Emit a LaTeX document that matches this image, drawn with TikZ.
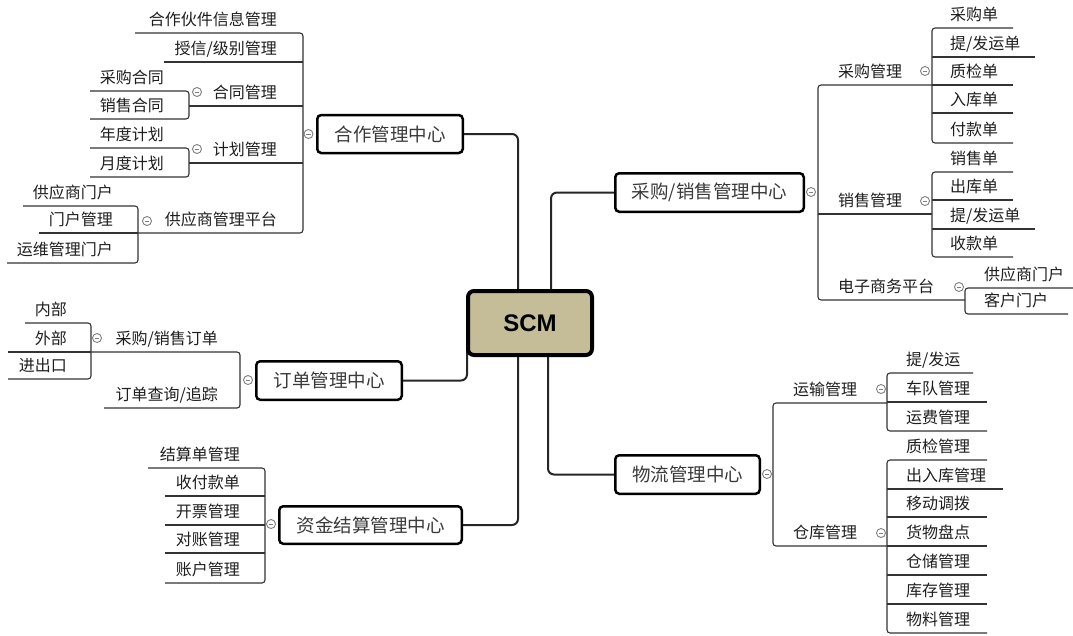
\documentclass[tikz,border=0pt]{standalone}
\usepackage{fontspec}
\newfontfamily\cjk{Noto Sans CJK SC}
\newfontfamily\scmf{Liberation Sans}
\definecolor{scmfill}{HTML}{C4BD97}
\definecolor{linec}{HTML}{333333}
\definecolor{connc}{HTML}{262626}
\definecolor{leaftext}{HTML}{1E1E1E}
\definecolor{maintext}{HTML}{3A3A3A}
\definecolor{togc}{HTML}{808080}
\tikzset{
  leaf/.style={font=\cjk\fontsize{16}{18}\selectfont, text=leaftext, inner sep=0pt},
  mainbox/.style={draw=black, line width=2.5pt, rounded corners=4pt, fill=white,
     font=\cjk\fontsize{18.5}{20}\selectfont, text=maintext, inner sep=0pt, minimum height=38pt},
  scmbox/.style={draw=black, line width=4pt, rounded corners=6pt, fill=scmfill,
     font=\scmf\bfseries\fontsize{24}{26}\selectfont, text=black, minimum width=124pt, minimum height=64pt, inner sep=0pt},
  thin/.style={draw=linec, line width=1.1pt, rounded corners=3pt},
  conn/.style={draw=connc, line width=2pt, rounded corners=6pt},
  tog/.style={circle, draw=togc, fill=white, line width=0.9pt, minimum size=9pt, inner sep=0pt,
     path picture={\draw[togc, line width=0.8pt] ([xshift=-2.3pt]path picture bounding box.center) -- ([xshift=2.3pt]path picture bounding box.center);}}
}
\newcommand\leafL[4]{\node[leaf,anchor=base east] (#1) at (#2,#3-8) {#4};}
\newcommand\leafR[4]{\node[leaf,anchor=base west] (#1) at (#2,#3-8) {#4};}
\begin{document}
\begin{tikzpicture}[x=1pt,y=-1pt]
\useasboundingbox (0,0) rectangle (1073,635);

% ---------------- main boxes ----------------
\node[mainbox, minimum width=145.5pt] (coop) at (390,134) {合作管理中心};
\node[mainbox, minimum width=188.5pt, minimum height=38.5pt] (purch) at (709.5,192.5) {采购/销售管理中心};
\node[mainbox, minimum width=145.5pt, minimum height=38.5pt] (order) at (329,380.5) {订单管理中心};
\node[mainbox, minimum width=144.5pt, minimum height=38.5pt] (logi) at (687.5,474.5) {物流管理中心};
\node[mainbox, minimum width=182.5pt, minimum height=37.5pt] (fund) at (370.5,525) {资金结算管理中心};

% ---------------- connectors from SCM ----------------
\coordinate (sc1) at (518,310);
\coordinate (sc2) at (551,310);
\coordinate (sc3) at (467,340);
\coordinate (sc4) at (548,330);
\coordinate (sc5) at (518,330);
\draw[conn] (sc1) |- (coop.east);
\draw[conn] (sc2) |- (purch.west);
\draw[conn] (sc3) |- (order.east);
\draw[conn] (sc4) |- (logi.west);
\draw[conn] (sc5) |- (fund.east);

\node[scmbox] (scm) at (530,323) {SCM};

% ---------------- 合作管理中心 ----------------
\leafL{c1}{277}{33}{合作伙件信息管理}
\leafL{c2}{277}{62}{授信/级别管理}
\leafL{c3}{277}{106}{合同管理}
\leafL{c4}{277}{163}{计划管理}
\leafL{c5}{277}{233}{供应商管理平台}
\draw[thin] (135,33) -- (303,33) -- (303,233) -- (138,233);
\draw[thin] (164,62) -- (303,62);
\draw[thin] (189,106) -- (303,106);
\draw[thin] (189,163) -- (303,163);

\leafL{c31}{164}{91}{采购合同}
\leafL{c32}{164}{119}{销售合同}
\draw[thin] (90,91) -- (189,91) -- (189,119) -- (90,119);

\leafL{c41}{164}{148}{年度计划}
\leafL{c42}{164}{177}{月度计划}
\draw[thin] (90,148) -- (189,148) -- (189,177) -- (90,177);

\leafL{c51}{113}{206}{供应商门户}
\leafL{c52}{113}{233}{门户管理}
\leafL{c53}{113}{263}{运维管理门户}
\draw[thin] (23,206) -- (138,206) -- (138,263) -- (7,263);
\draw[thin] (39,233) -- (138,233);

% ---------------- 订单管理中心 ----------------
\leafL{o1}{218}{352}{采购/销售订单}
\leafL{o2}{218}{408}{订单查询/追踪}
\draw[thin] (91,352) -- (240,352) -- (240,408) -- (104,408);

\leafL{o11}{67}{323}{内部}
\leafL{o12}{67}{352}{外部}
\leafL{o13}{67}{379}{进出口}
\draw[thin] (25,323) -- (91,323) -- (91,379) -- (8,379);
\draw[thin] (8,352) -- (91,352);

% ---------------- 资金结算管理中心 ----------------
\leafL{f1}{240}{468}{结算单管理}
\leafL{f2}{240}{496}{收付款单}
\leafL{f3}{240}{525}{开票管理}
\leafL{f4}{240}{553}{对账管理}
\leafL{f5}{240}{583}{账户管理}
\draw[thin] (148,468) -- (265,468) -- (265,583) -- (165,583);
\draw[thin] (165,496) -- (265,496);
\draw[thin] (165,525) -- (265,525);
\draw[thin] (165,553) -- (265,553);

% ---------------- 采购/销售管理中心 ----------------
\leafR{p1}{838}{85}{采购管理}
\leafR{p2}{838}{214}{销售管理}
\leafR{p3}{838}{300}{电子商务平台}
\draw[thin] (932,85) -- (818,85) -- (818,300) -- (965,300);
\draw[thin] (818,214) -- (932,214);

\leafR{p11}{950}{28}{采购单}
\leafR{p12}{950}{57}{提/发运单}
\leafR{p13}{950}{85}{质检单}
\leafR{p14}{950}{113}{入库单}
\leafR{p15}{950}{143}{付款单}
\draw[thin] (1013,28) -- (932,28) -- (932,143) -- (1013,143);
\draw[thin] (932,57) -- (1035,57);
\draw[thin] (932,85) -- (1013,85);
\draw[thin] (932,113) -- (1013,113);

\leafR{p21}{950}{172}{销售单}
\leafR{p22}{950}{200}{出库单}
\leafR{p23}{950}{229}{提/发运单}
\leafR{p24}{950}{257}{收款单}
\draw[thin] (1013,172) -- (932,172) -- (932,257) -- (1013,257);
\draw[thin] (932,200) -- (1013,200);
\draw[thin] (932,229) -- (1035,229);

\leafR{p31}{984}{288}{供应商门户}
\leafR{p32}{984}{314}{客户门户}
\draw[thin] (1073,288) -- (965,288) -- (965,314) -- (1068,314);

% ---------------- 物流管理中心 ----------------
\leafR{l1}{793}{403}{运输管理}
\leafR{l2}{793}{546}{仓库管理}
\draw[thin] (887,403) -- (773,403) -- (773,546) -- (887,546);

\leafR{l11}{906}{373}{提/发运}
\leafR{l12}{906}{402}{车队管理}
\leafR{l13}{906}{431}{运费管理}
\draw[thin] (973,373) -- (887,373) -- (887,431) -- (987,431);
\draw[thin] (887,402) -- (987,402);

\leafR{l21}{906}{460}{质检管理}
\leafR{l22}{906}{489}{出入库管理}
\leafR{l23}{906}{517}{移动调拨}
\leafR{l24}{906}{546}{货物盘点}
\leafR{l25}{906}{575}{仓储管理}
\leafR{l26}{906}{604}{库存管理}
\leafR{l27}{906}{633}{物料管理}
\draw[thin] (987,460) -- (887,460) -- (887,633) -- (987,633);
\draw[thin] (887,489) -- (1003,489);
\draw[thin] (887,517) -- (987,517);
\draw[thin] (887,546) -- (987,546);
\draw[thin] (887,575) -- (987,575);
\draw[thin] (887,604) -- (987,604);

% ---------------- collapse toggles ----------------
\node[tog] (t1) at (308.5,134) {};
\node[tog] (t2) at (197,92) {};
\node[tog] (t3) at (197,149) {};
\node[tog] (t4) at (147,221) {};
\node[tog] (t5) at (248,380) {};
\node[tog] (t6) at (97,338) {};
\node[tog] (t7) at (271,524) {};
\node[tog] (t8) at (811,192) {};
\node[tog] (t9) at (925,71) {};
\node[tog] (t10) at (925,201) {};
\node[tog] (t11) at (959,287) {};
\node[tog] (t12) at (767,474) {};
\node[tog] (t13) at (881,389) {};
\node[tog] (t14) at (881,533) {};
\end{tikzpicture}
\end{document}
